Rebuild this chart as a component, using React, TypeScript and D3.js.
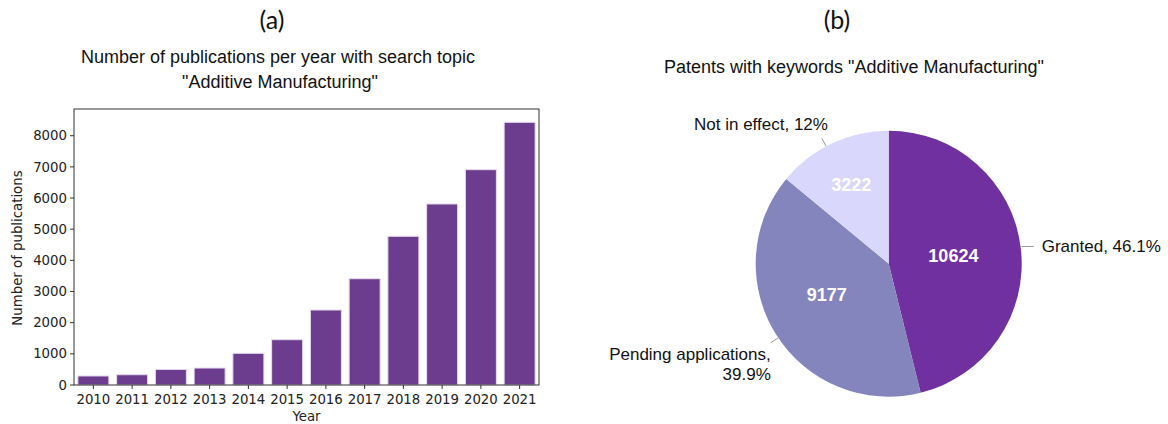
import React from "react";
import * as d3 from "d3";

const years = ["2010","2011","2012","2013","2014","2015","2016","2017","2018","2019","2020","2021"];
const publications = [290, 330, 500, 545, 1017, 1454, 2407, 3411, 4772, 5809, 6910, 8430];
const yTicks = [0,1000,2000,3000,4000,5000,6000,7000,8000];

const patentCategories = ["Granted", "Pending applications", "Not in effect"];
const patentCounts = [10624, 9177, 3222];
const patentLabels = ["Granted, 46.1%", "Pending applications,|39.9%", "Not in effect, 12%"];
const patentColors = ["#7030a0", "#8585bd", "#d9d7fb"];

const W = 1168, H = 424;

export default function App() {
  // Bar chart
  const left = 74, right = 539, top = 109, bottom = 385;
  const x = d3.scaleBand<string>().domain(years).range([left, right]).paddingInner(0.2).paddingOuter(0.1);
  const y = d3.scaleLinear().domain([0, 8857]).range([bottom, top]);
  const tickFont = "'DejaVu Sans', sans-serif";
  const arial = "'Liberation Sans', Arial, sans-serif";

  // Pie
  const cx = 888.7, cy = 263.7, r = 133;
  const pie = d3.pie<number>().sort(null).value(d => d);
  const arcs = pie(patentCounts);
  const arc = d3.arc<d3.PieArcDatum<number>>().innerRadius(0).outerRadius(r);
  const labelRadii = [0.49, 0.52, 0.66];
  const labelShift = [0, 0.1, 0];
  const pt = (a: number, rad: number) => [cx + rad * Math.sin(a), cy - rad * Math.cos(a)];

  return (
    <svg width={W} height={H} style={{ display: "block", position: "absolute", left: 0, top: 0 }}>
      <rect width={W} height={H} fill="#fff" />
      {/* Panel (a) */}
      <text x={272} y={29} textAnchor="middle" fontFamily="Lato, 'Open Sans', sans-serif" fontSize={25} fill="#111">(a)</text>
      <text x={278} y={63} textAnchor="middle" fontFamily={arial} fontSize={18} fill="#111">Number of publications per year with search topic</text>
      <text x={280} y={88} textAnchor="middle" fontFamily={arial} fontSize={18} fill="#111">"Additive Manufacturing"</text>

      {years.map((yr, i) => (
        <rect key={yr} x={x(yr)!} y={y(publications[i])} width={x.bandwidth()} height={bottom - y(publications[i])}
          fill="#6c3d8f" stroke="#e6dcef" strokeWidth={1} />
      ))}
      <rect x={left} y={top} width={right - left} height={bottom - top} fill="none" stroke="#333" strokeWidth={1} />
      {yTicks.map(t => (
        <g key={t}>
          <line x1={left - 4} x2={left} y1={y(t)} y2={y(t)} stroke="#333" strokeWidth={1} />
          <text x={left - 7} y={y(t)} dy="0.35em" textAnchor="end" fontFamily={tickFont} fontSize={13.3} fill="#222">{t}</text>
        </g>
      ))}
      {years.map(yr => (
        <g key={"t" + yr}>
          <line x1={x(yr)! + x.bandwidth() / 2} x2={x(yr)! + x.bandwidth() / 2} y1={bottom} y2={bottom + 4} stroke="#333" strokeWidth={1} />
          <text x={x(yr)! + x.bandwidth() / 2} y={404} textAnchor="middle" fontFamily={tickFont} fontSize={13.3} fill="#222">{yr}</text>
        </g>
      ))}
      <text x={(left + right) / 2} y={421} textAnchor="middle" fontFamily={tickFont} fontSize={13.3} fill="#222">Year</text>
      <text transform={`translate(22,${(top + bottom) / 2 + 1}) rotate(-90)`} textAnchor="middle" fontFamily={tickFont} fontSize={13.3} fill="#222">Number of publications</text>

      {/* Panel (b) */}
      <text x={837} y={29} textAnchor="middle" fontFamily="Lato, 'Open Sans', sans-serif" fontSize={25} fill="#111">(b)</text>
      <text x={854} y={73} textAnchor="middle" fontFamily={arial} fontSize={18} fill="#111">Patents with keywords "Additive Manufacturing"</text>
      <g transform={`translate(${cx},${cy})`}>
        {arcs.map((a, i) => (
          <path key={patentCategories[i]} d={arc(a)!} fill={patentColors[i]} />
        ))}
      </g>
      {arcs.map((a, i) => {
        const mid = (a.startAngle + a.endAngle) / 2 + labelShift[i];
        const [lx, ly] = pt(mid, r * labelRadii[i]);
        return (
          <text key={"v" + i} x={lx} y={ly} dy="0.35em" textAnchor="middle" fontFamily={arial}
            fontWeight="bold" fontSize={18} fill="#fff">{a.data}</text>
        );
      })}
      {/* outside labels with leader lines */}
      {arcs.map((a, i) => {
        const mid = (a.startAngle + a.endAngle) / 2;
        const lines = patentLabels[i].split("|");
        if (i === 0) {
          const [x1, y1] = pt(mid, r + 1);
          return (
            <g key={"l" + i}>
              <line x1={x1} y1={y1 - 1} x2={x1 + 12} y2={y1 - 1} stroke="#999" strokeWidth={1} />
              <text x={x1 + 20} y={y1 - 1} dy="0.35em" fontFamily={arial} fontSize={17} fill="#111">{lines[0]}</text>
            </g>
          );
        }
        if (i === 1) {
          const [x1, y1] = pt(mid - 0.03, r);
          const [x2, y2] = pt(mid - 0.03, r + 9);
          return (
            <g key={"l" + i}>
              <line x1={x1} y1={y1} x2={x2} y2={y2} stroke="#999" strokeWidth={1} />
              <text x={x2} y={y2 + 11} dy="0.35em" textAnchor="end" fontFamily={arial} fontSize={17} fill="#111">{lines[0]}</text>
              <text x={x2} y={y2 + 31} dy="0.35em" textAnchor="end" fontFamily={arial} fontSize={17} fill="#111">{lines[1]}</text>
            </g>
          );
        }
        const [x1, y1] = pt(mid - 0.05, r);
        const [x2, y2] = pt(mid - 0.05, r + 9);
        return (
          <g key={"l" + i}>
            <line x1={x1} y1={y1} x2={x2} y2={y2} stroke="#999" strokeWidth={1} />
            <text x={x2 + 6} y={y2 - 14} dy="0.35em" textAnchor="end" fontFamily={arial} fontSize={17} fill="#111">{lines[0]}</text>
          </g>
        );
      })}
    </svg>
  );
}
